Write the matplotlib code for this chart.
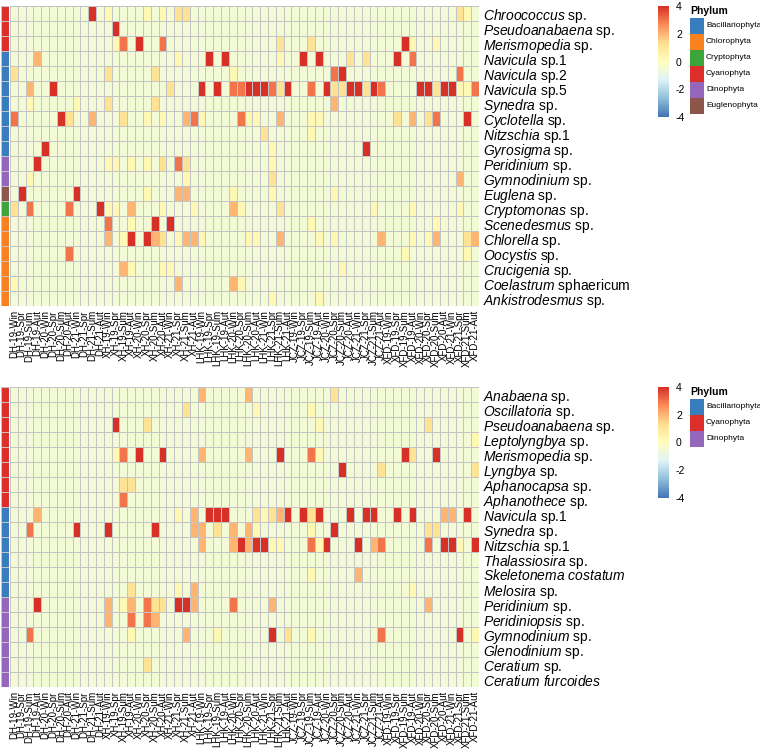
import numpy as np
import matplotlib.pyplot as plt
from matplotlib.colors import LinearSegmentedColormap, ListedColormap
from matplotlib.patches import Rectangle

plt.rcParams['font.family'] = ['Liberation Sans', 'DejaVu Sans']
plt.rcParams['mathtext.fontset'] = 'custom'
plt.rcParams['mathtext.it'] = 'Liberation Sans:italic'
plt.rcParams['mathtext.rm'] = 'Liberation Sans'

# sample names: site - year - season
sites = ['DH', 'XH', 'LHK', 'JCZ', 'XFD']
years = ['19', '20', '21']
seasons = ['Win', 'Spr', 'Sum', 'Aut']
samples = [f'{s}-{y}-{q}' for s in sites for y in years for q in seasons]

# colour levels (one char per cell)
level_values = {'.': -0.55, '1': 0.3, '2': 1.2, '3': 2.0, '4': 3.0, '5': 4.0}

phylum_colors = {
    'Bacillariophyta': '#3A7DBE',
    'Chlorophyta': '#F7821F',
    'Cryptophyta': '#3BA43B',
    'Cyanophyta': '#DC2E2B',
    'Dinophyta': '#9467BD',
    'Euglenophyta': '#8C564B',
}

# ---- upper heatmap ----
species_top = ['Chroococcus sp.', 'Pseudoanabaena sp.', 'Merismopedia sp.',
               'Navicula sp.1', 'Navicula sp.2', 'Navicula sp.5', 'Synedra sp.',
               'Cyclotella sp.', 'Nitzschia sp.1', 'Gyrosigma sp.', 'Peridinium sp.',
               'Gymnodinium sp.', 'Euglena sp.', 'Cryptomonas sp.', 'Scenedesmus sp.',
               'Chlorella sp.', 'Oocystis sp.', 'Crucigenia sp.',
               'Coelastrum sphaericum', 'Ankistrodesmus sp.']
phylum_top = ['Cyanophyta'] * 3 + ['Bacillariophyta'] * 7 + ['Dinophyta'] * 2 + \
             ['Euglenophyta', 'Cryptophyta'] + ['Chlorophyta'] * 6
#          DH           XH           LHK          JCZ          XFD
z_top = [
    '..........5. 1....1.1.22. ............ ............ .........21.',
    '............ .5.......... ............ ............ ............',
    '............ .14.5..4.... ..........2. ..2......... ..51..1.....',
    '...3........ .........1.. .5.5......1. .5.5...2.2.. .5.4........',
    '2........... 2.....2..... ....1....... .....45..... .........4..',
    '..3..5...... ........2... 5.5.44555425 ..4.52255254 ....55255114',
    '..1.....1... 2.....2..... ............ .....3...... ............',
    '4.....52..3. ..2..1.1..34 1....411..3. ..11........ .2.3.24...5.',
    '............ ............ ........2... ..1......... ............',
    '....5....... ............ .........1.. .........5.. ............',
    '...5........ 11.1.1.2.42. .........1.. ............ ............',
    '..1......... ..........1. .........2.. ............ .........3..',
    '.5......5... .....1...33. ....1....1.. .....1...... ............',
    '2.4....4...5 11.3...1...1 ....31....2. ..........1. ...1.....1..',
    '............ 4..1..5.5... ............ ..1......... ......1.....',
    '............ 3.15.532.133 1.....11..3. ...1.1.....3 ...1.13...23',
    '.......4.... ............ ............ ............ ..1.......1.',
    '............ ..31...11... ............ ......1..... ............',
    '1........... .........3.. ....31...... ............ ............',
    '............ ............ .........1.. ...1........ ............',
]

# ---- lower heatmap ----
species_bottom = ['Anabaena sp.', 'Oscillatoria sp.', 'Pseudoanabaena sp.',
                  'Leptolyngbya sp.', 'Merismopedia sp.', 'Lyngbya sp.',
                  'Aphanocapsa sp.', 'Aphanothece sp.', 'Navicula sp.1', 'Synedra sp.',
                  'Nitzschia sp.1', 'Thalassiosira sp.', 'Skeletonema costatum',
                  'Melosira sp.', 'Peridinium sp.', 'Peridiniopsis sp.',
                  'Gymnodinium sp.', 'Glenodinium sp.', 'Ceratium sp.',
                  'Ceratium furcoides']
phylum_bottom = ['Cyanophyta'] * 8 + ['Bacillariophyta'] * 6 + ['Dinophyta'] * 6
z_bottom = [
    '............ ............ 3.....3..... .....2...... ............',
    '............ ..........2. .......1.... ..1......... ............',
    '............ .5...2...... ............ ...1........ .....2......',
    '............ ............ ............ ............ ...........1',
    '............ .14.5..5.... 3.....3...5. ..41........ ..52..5.....',
    '............ ............ ............ ......5....2 ...........2',
    '............ ..22........ ............ ............ ............',
    '............ ..4......... ............ ............ ............',
    '...3........ .........1.3 .555...21235 .525...5.55. .5.5...33.5.',
    '..4.....5... 5.....5....3 3.2.3.31.... ..1..5...... .....22.....',
    '............ ............ 3...3535511. ..415...5.34 .....4.551.5',
    '............ ............ ............ ............ ............',
    '............ ............ ............ ..1.....3... ............',
    '............ ...2.....1.3 ............ ............ ...1........',
    '...5........ 3.13.422.553 ....4....3.. ............ .....3......',
    '............ 3..4.43..... ............ ............ ............',
    '..4......... ...1......3. ..1......5.2 ..1........4 .........5.1',
    '............ ............ ............ ............ ............',
    '............ .....2...... ............ ............ ............',
    '............ ............ ............ ............ ............',
]

W, H = 760, 749
cmap = LinearSegmentedColormap.from_list(
    'rdylbu7', ['#4575B4', '#91BFDB', '#E0F3F8', '#FFFFBF', '#FEE090', '#FC8D59', '#D73027'])
grid_col = '#C4C4C4'


def italic_label(name):
    words = name.split(' ')
    ital = [w for w in words if not w.startswith('sp')]
    rest = [w for w in words if w.startswith('sp')]
    lab = r'$\mathit{' + r'\ '.join(ital) + '}$'
    if rest:
        lab += ' ' + ' '.join(rest)
    return lab


def fig_box(x, y, w, h):
    return [x / W, 1 - (y + h) / H, w / W, h / H]


fig = plt.figure(figsize=(W / 100, H / 100), dpi=100)
over = fig.add_axes([0, 0, 1, 1])
over.set_xlim(0, W)
over.set_ylim(H, 0)
over.axis('off')


def draw_block(y0, species, phyla, rows, legend_names):
    vals = np.array([[level_values[c] for c in r.replace(' ', '')] for r in rows])
    nr, nc = vals.shape
    ax = fig.add_axes(fig_box(10, y0, 469, 300))
    ax.pcolormesh(vals, cmap=cmap, vmin=-4, vmax=4, edgecolors=grid_col, linewidth=0.5)
    ax.set_xlim(0, nc)
    ax.set_ylim(nr, 0)
    ax.set_xticks(np.arange(nc) + 0.5)
    ax.set_xticklabels(samples, rotation=90, fontsize=7)
    ax.set_yticks(np.arange(nr) + 0.5)
    ax.set_yticklabels([italic_label(s) for s in species], fontsize=10)
    ax.yaxis.tick_right()
    ax.tick_params(length=0, pad=3)
    for sp in ax.spines.values():
        sp.set_visible(False)

    # phylum annotation strip
    names = list(phylum_colors)
    idx = np.array([[names.index(p)] for p in phyla])
    ann = fig.add_axes(fig_box(1, y0, 7.5, 300))
    ann.pcolormesh(idx, cmap=ListedColormap([phylum_colors[n] for n in names]),
                   vmin=-0.5, vmax=len(names) - 0.5, edgecolors=grid_col, linewidth=0.5)
    ann.set_ylim(nr, 0)
    ann.axis('off')

    # colour key
    cax = fig.add_axes(fig_box(658, y0, 11, 111))
    grad = np.linspace(4, -4, 200).reshape(-1, 1)
    cax.imshow(grad, aspect='auto', cmap=cmap, vmin=-4, vmax=4, extent=[0, 1, -4, 4])
    cax.set_xticks([])
    cax.yaxis.tick_right()
    cax.set_yticks([4, 2, 0, -2, -4])
    cax.set_yticklabels(['4', '2', '0', '-2', '-4'], fontsize=7.5)
    cax.tick_params(length=0, pad=5)
    for sp in cax.spines.values():
        sp.set_visible(False)

    # phylum legend
    over.text(690, y0 + 5, 'Phylum', fontsize=7.5, fontweight='bold', va='center')
    for i, n in enumerate(legend_names):
        yy = y0 + 12 + i * 16
        over.add_patch(Rectangle((690, yy), 14, 15.5, facecolor=phylum_colors[n],
                                 edgecolor='none'))
        over.text(706, yy + 7.8, n, fontsize=6, va='center')


draw_block(6, species_top, phylum_top, z_top,
           ['Bacillariophyta', 'Chlorophyta', 'Cryptophyta', 'Cyanophyta',
            'Dinophyta', 'Euglenophyta'])
draw_block(387, species_bottom, phylum_bottom, z_bottom,
           ['Bacillariophyta', 'Cyanophyta', 'Dinophyta'])

fig.savefig('out.png', dpi=100)
